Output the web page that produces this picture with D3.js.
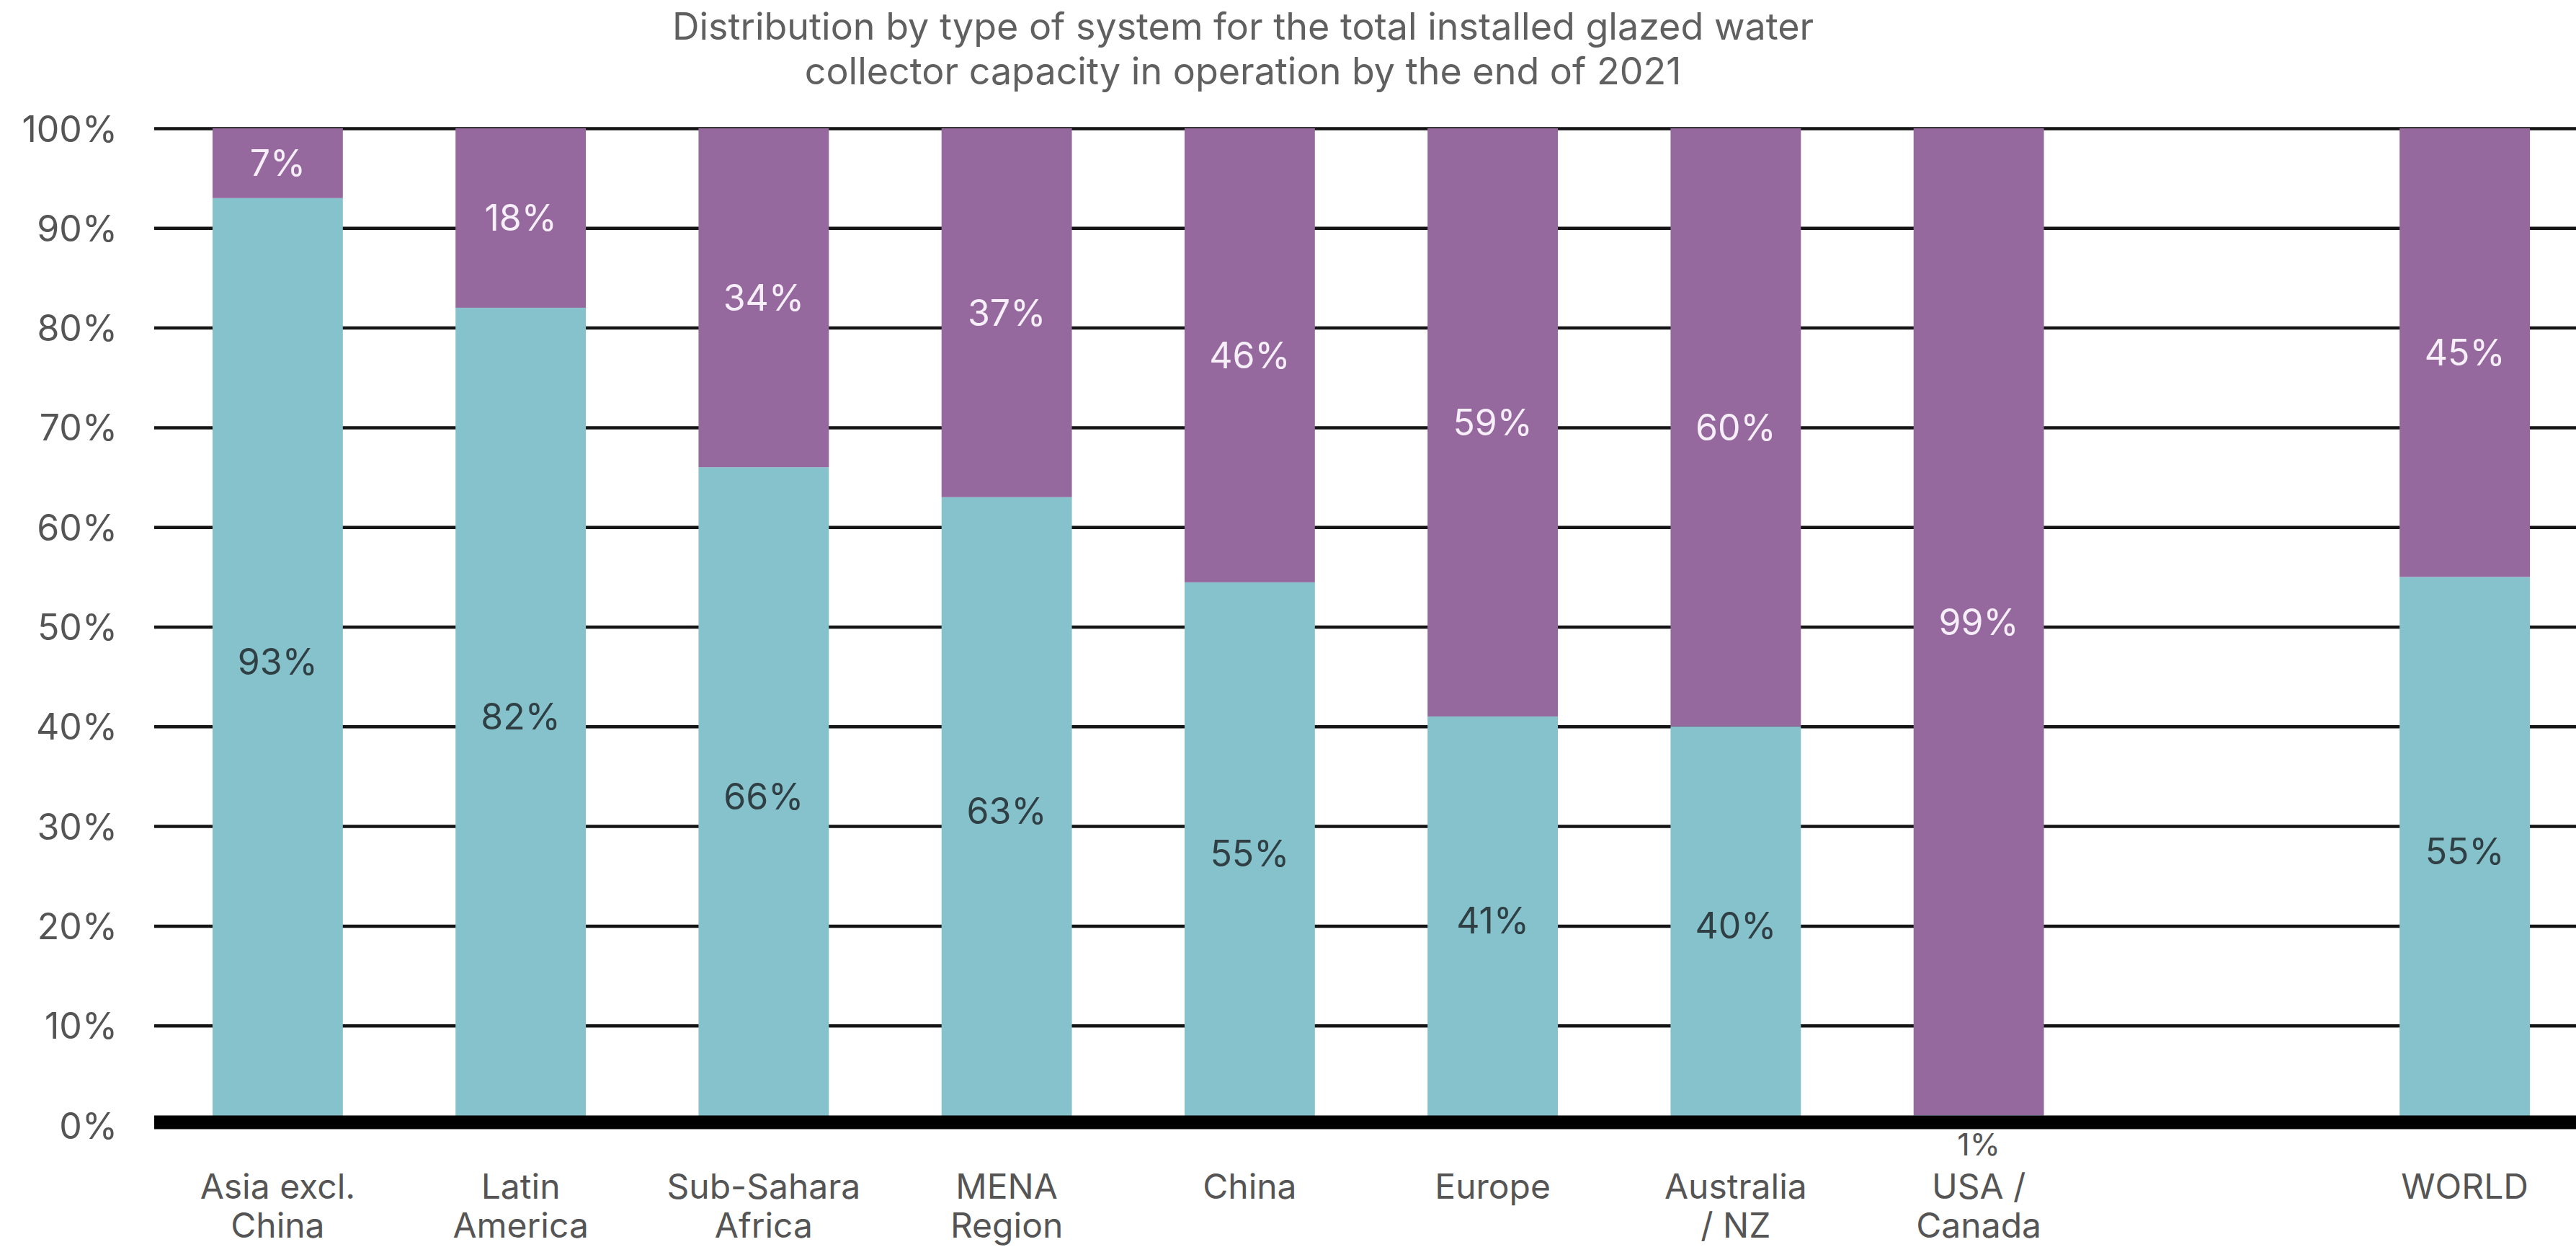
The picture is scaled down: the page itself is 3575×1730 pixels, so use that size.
<!DOCTYPE html>
<html>
<head>
<meta charset="utf-8">
<script src="https://cdn.jsdelivr.net/npm/d3@7"></script>
<style>
  html, body { margin: 0; padding: 0; background: #fff; }
  svg text { font-family: Inter, "Open Sans", sans-serif; }
</style>
</head>
<body>
<div class="chart"></div>
<script>
// chart data
var titleLines = ["Distribution by type of system for the total installed glazed water",
                  "collector capacity in operation by the end of 2021"];
var categories = ["Asia excl. China", "Latin America", "Sub-Sahara Africa", "MENA Region",
                  "China", "Europe", "Australia / NZ", "USA / Canada", "WORLD"];
var categoryLines = [["Asia excl.", "China"], ["Latin", "America"], ["Sub-Sahara", "Africa"],
                     ["MENA", "Region"], ["China"], ["Europe"], ["Australia", "/ NZ"],
                     ["USA /", "Canada"], ["WORLD"]];
var thermosiphon = [93, 82, 66, 63, 55, 41, 40, 1, 55];
var pumped = [7, 18, 34, 37, 46, 59, 60, 99, 45];
var yTicks = [0, 0.1, 0.2, 0.3, 0.4, 0.5, 0.6, 0.7, 0.8, 0.9, 1];

var width = 3575;
var height = 1730;
var colors = {thermosiphon: "#86c2cb", pumped: "#96699e"};
var labelColors = {thermosiphon: "#2f3f44", pumped: "#f6eef8"};

// slots: a gap is left before WORLD
var slots = categories.slice(0, 8).concat(["_gap"], categories.slice(8));

var rows = categories.map(function(c, i){
    return {category: c, thermosiphon: thermosiphon[i], pumped: pumped[i], lines: categoryLines[i]};
});

var stack = d3.stack()
    .keys(["thermosiphon", "pumped"])
    .offset(d3.stackOffsetExpand);
var series = stack(rows);

var x = d3.scaleBand()
    .domain(slots)
    .range([214, 3592])
    .paddingInner(0.4637)
    .paddingOuter(0.24);

var y = d3.scaleLinear()
    .domain([0, 1])
    .range([1561, 178]);

var svg = d3.select('.chart')
    .append('svg')
    .attr('width', width)
    .attr('height', height);

// title
svg.append('g')
    .selectAll('text')
    .data(titleLines)
    .enter()
        .append('text')
        .attr('x', 1725)
        .attr('y', function(d, i){ return 55 + i * 62 })
        .attr('text-anchor', 'middle')
        .attr('font-size', 52)
        .attr('fill', '#606060')
        .text(function(d){ return d });

// y axis + gridlines
var yAxis = d3.axisLeft(y)
    .tickValues(yTicks)
    .tickFormat(d3.format('.0%'))
    .tickSize(-(width - 214))
    .tickPadding(51);

var gy = svg.append('g')
    .attr('transform', 'translate(214,0)')
    .call(yAxis);
gy.select('.domain').remove();
gy.selectAll('.tick line')
    .attr('stroke', '#151515')
    .attr('stroke-width', 4.5);
gy.selectAll('.tick text')
    .attr('font-size', 50)
    .attr('fill', '#555')
    .attr('dy', '0.36em');

// bars
var layers = svg.append('g')
    .selectAll('g')
    .data(series)
    .enter()
        .append('g')
        .attr('fill', function(d){ return colors[d.key] });

layers.selectAll('rect')
    .data(function(d){ return d })
    .enter()
        .append('rect')
        .attr('x', function(d){ return x(d.data.category) })
        .attr('width', x.bandwidth())
        .attr('y', function(d){ return y(d[1]) })
        .attr('height', function(d){ return y(d[0]) - y(d[1]) });

// value labels (tiny segments go under the axis)
function tiny(d){ return d[1] - d[0] < 0.03 }
layers.each(function(s){
    d3.select(this).selectAll('text')
        .data(s)
        .enter()
            .append('text')
            .attr('x', function(d){ return x(d.data.category) + x.bandwidth() / 2 })
            .attr('y', function(d){ return tiny(d) ? 1603 : y((d[0] + d[1]) / 2) })
            .attr('dy', function(d){ return tiny(d) ? 0 : '0.36em' })
            .attr('text-anchor', 'middle')
            .attr('font-size', function(d){ return tiny(d) ? 43 : 50 })
            .attr('fill', function(d){ return tiny(d) ? '#555' : labelColors[s.key] })
            .text(function(d){ return d.data[s.key] + '%' });
});

// baseline
svg.append('line')
    .attr('x1', 214)
    .attr('x2', width)
    .attr('y1', y(0) - 4)
    .attr('y2', y(0) - 4)
    .attr('stroke', '#000')
    .attr('stroke-width', 19);

// category labels, one text per line
svg.append('g')
    .selectAll('g')
    .data(rows)
    .enter()
        .append('g')
        .attr('transform', function(d){ return 'translate(' + (x(d.category) + x.bandwidth() / 2) + ',0)' })
        .selectAll('text')
        .data(function(d){ return d.lines })
        .enter()
            .append('text')
            .attr('y', function(d, i){ return 1663 + i * 54 })
            .attr('text-anchor', 'middle')
            .attr('font-size', 48)
            .attr('fill', '#555')
            .text(function(d){ return d });
</script>
</body>
</html>
